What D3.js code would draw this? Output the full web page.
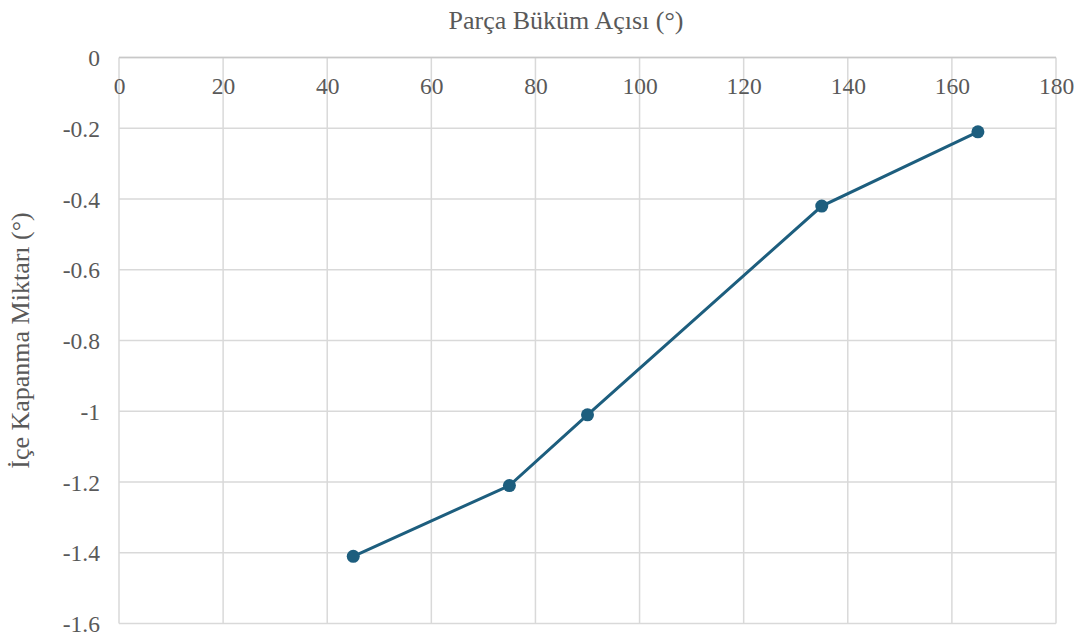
<!DOCTYPE html>
<html><head><meta charset="utf-8">
<script src="https://cdn.jsdelivr.net/npm/d3@7"></script>
<style>body{margin:0;background:#fff}svg{display:block}</style>
</head><body>
<script>
const xValues = [45, 75, 90, 135, 165];
const yValues = [-1.41, -1.21, -1.01, -0.42, -0.21];
const xTicks = [0, 20, 40, 60, 80, 100, 120, 140, 160, 180];
const yTicks = [0, -0.2, -0.4, -0.6, -0.8, -1, -1.2, -1.4, -1.6];
const xTitle = "Parça Büküm Açısı (°)";
const yTitle = "İçe Kapanma Miktarı (°)";

const W = 1084, H = 638;
const m = {left: 119, right: 1056, top: 57.5, bottom: 623.5};
const svg = d3.select("body").append("svg").attr("width", W).attr("height", H);
const x = d3.scaleLinear().domain([0, 180]).range([m.left, m.right]);
const y = d3.scaleLinear().domain([-1.6, 0]).range([m.bottom, m.top]);
const tc = "#595959";
const FF = '"Liberation Serif"';

// grid
svg.append("g").selectAll("line").data(xTicks).join("line")
  .attr("x1", d => x(d)).attr("x2", d => x(d)).attr("y1", m.top).attr("y2", m.bottom)
  .attr("stroke", "#d9d9d9").attr("stroke-width", 1.5);
svg.append("g").selectAll("line").data(yTicks).join("line")
  .attr("x1", m.left).attr("x2", m.right).attr("y1", d => y(d)).attr("y2", d => y(d))
  .attr("stroke", "#d9d9d9").attr("stroke-width", 1.5);
svg.append("line").attr("x1", m.left).attr("x2", m.right).attr("y1", y(0)).attr("y2", y(0))
  .attr("stroke", "#c8c8c8").attr("stroke-width", 1.5);

// axes labels
const xa = svg.append("g").attr("transform", `translate(0,${y(0)})`)
  .call(d3.axisBottom(x).tickValues(xTicks).tickSize(0).tickFormat(d => d));
xa.select(".domain").remove();
xa.attr("font-family", FF);
xa.selectAll("text").attr("y", 36.5).attr("dy", 0)
  .attr("font-family", FF).attr("font-size", 23.5).attr("fill", tc);

const ya = svg.append("g").attr("transform", `translate(${m.left},0)`)
  .call(d3.axisLeft(y).tickValues(yTicks).tickSize(0).tickPadding(19).tickFormat(d => d === 0 ? "0" : String(d)));
ya.select(".domain").remove();
ya.attr("font-family", FF);
ya.selectAll("text").attr("dy", "0.34em").attr("font-family", FF).attr("font-size", 23.5).attr("fill", tc);

// titles
svg.append("text").attr("x", 566).attr("y", 29).attr("text-anchor", "middle")
  .attr("font-family", FF).attr("font-size", 26).attr("fill", tc).text(xTitle);
svg.append("text").attr("transform", `translate(29,${(m.top + m.bottom) / 2}) rotate(-90)`)
  .attr("text-anchor", "middle").attr("font-family", FF).attr("font-size", 26).attr("fill", tc).text(yTitle);

// line + markers
const data = xValues.map((v, i) => [v, yValues[i]]);
const color = "#1d5e7e";
svg.append("path").datum(data).attr("fill", "none").attr("stroke", color).attr("stroke-width", 3)
  .attr("d", d3.line().x(d => x(d[0])).y(d => y(d[1])));
svg.append("g").selectAll("circle").data(data).join("circle")
  .attr("cx", d => x(d[0])).attr("cy", d => y(d[1])).attr("r", 6.5).attr("fill", color);
</script>
</body></html>
